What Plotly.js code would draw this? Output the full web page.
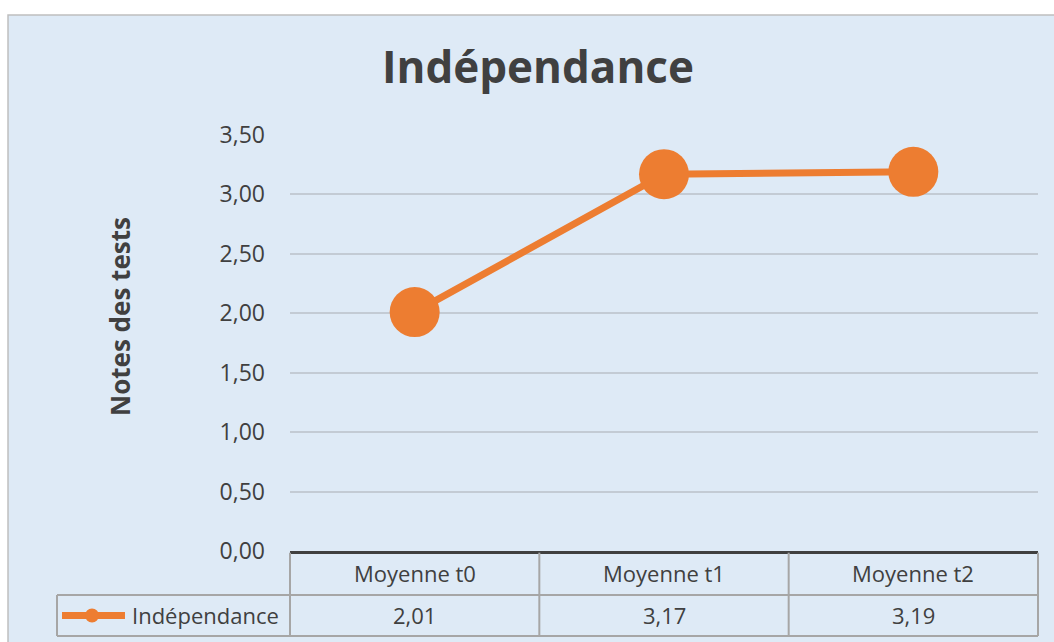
<!DOCTYPE html>
<html>
<head>
<meta charset="utf-8">
<script src="https://cdn.plot.ly/plotly-3.0.1.min.js"></script>
<style>html,body{margin:0;padding:0;background:#fff;}#chart{width:1054px;height:642px;}</style>
</head>
<body>
<div id="chart"></div>
<script>
const categories = ["Moyenne t0", "Moyenne t1", "Moyenne t2"];
const seriesName = "Indépendance";
const values = [2.01, 3.17, 3.19];
const yTickValues = [0, 0.5, 1, 1.5, 2, 2.5, 3, 3.5];
const chartTitle = "Indépendance";
const yTitle = "Notes des tests";

const ORANGE = "#ED7D31";
const TEXT = "#404040";
const GRID = "#C3CBD4";
const TABLE = "#A6A6A6";
const BG = "#DEEAF6";
const FONT = "Open Sans, Noto Sans, DejaVu Sans, sans-serif";

function fmt(v) { return v.toFixed(2).replace(".", ","); }

// geometry of the data table (paper coords)
const row1Y = -0.054, row2Y = -0.155;
const rowSplit = -0.1058, rowBottom = -0.2043;
const legendLeft = -0.3115;

const shapes = [
  // chart area background & border
  {type: "rect", xref: "paper", yref: "paper", x0: -0.377, x1: 1.05, y0: -0.3, y1: 1.2885,
   fillcolor: BG, line: {color: "#BFBFBF", width: 1.5}, layer: "below"},
  // table horizontal lines
  {type: "line", xref: "paper", yref: "paper", x0: legendLeft, x1: 1, y0: rowSplit, y1: rowSplit, line: {color: TABLE, width: 2}},
  {type: "line", xref: "paper", yref: "paper", x0: legendLeft, x1: 1, y0: rowBottom, y1: rowBottom, line: {color: TABLE, width: 2}},
  // legend cell left border
  {type: "line", xref: "paper", yref: "paper", x0: legendLeft, x1: legendLeft, y0: rowSplit, y1: rowBottom, line: {color: TABLE, width: 2}},
];
// vertical table lines at category boundaries
for (let i = 0; i <= categories.length; i++) {
  const xp = i / categories.length;
  shapes.push({type: "line", xref: "paper", yref: "paper", x0: xp, x1: xp, y0: -0.004, y1: rowBottom, line: {color: TABLE, width: 2}});
}
// legend swatch
shapes.push({type: "line", xref: "paper", yref: "paper", x0: -0.3048, x1: -0.2206, y0: row2Y, y1: row2Y, line: {color: ORANGE, width: 7}});
shapes.push({type: "circle", xref: "paper", yref: "paper", xsizemode: "pixel", ysizemode: "pixel",
  xanchor: -0.2647, yanchor: row2Y, x0: -7, x1: 7, y0: -7, y1: 7, fillcolor: ORANGE, line: {width: 0}});

const annotations = [];
categories.forEach((c, i) => {
  annotations.push({xref: "x", yref: "paper", x: c, y: row1Y, text: c, showarrow: false,
    font: {family: FONT, size: 22, color: TEXT}, xanchor: "center", yanchor: "middle"});
  annotations.push({xref: "x", yref: "paper", x: c, y: row2Y, text: fmt(values[i]), showarrow: false,
    font: {family: FONT, size: 22, color: TEXT}, xanchor: "center", yanchor: "middle"});
});
annotations.push({xref: "paper", yref: "paper", x: -0.2139, y: row2Y, text: seriesName, showarrow: false,
  font: {family: FONT, size: 22, color: TEXT}, xanchor: "left", yanchor: "middle"});
annotations.push({xref: "paper", yref: "paper", x: -0.2273, y: 0.565, text: "<b>" + yTitle + "</b>", showarrow: false,
  textangle: -90, font: {family: FONT, size: 26, color: TEXT}, xanchor: "center", yanchor: "middle"});

const trace = {
  x: categories, y: values, type: "scatter", mode: "lines+markers", name: seriesName,
  line: {color: ORANGE, width: 7},
  marker: {color: ORANGE, size: 50, line: {width: 0}},
  hoverinfo: "skip", cliponaxis: false
};

const layout = {
  width: 1054, height: 642,
  margin: {l: 290, r: 16, t: 135, b: 91, pad: 0},
  paper_bgcolor: "#ffffff",
  plot_bgcolor: "rgba(0,0,0,0)",
  separators: ",.",
  showlegend: false,
  title: {text: "<b>" + chartTitle + "</b>", xref: "container", yref: "container", x: 0.5104, y: 0.894,
    xanchor: "center", yanchor: "middle", font: {family: FONT, size: 44, color: TEXT}},
  xaxis: {type: "category", range: [-0.5, 2.5], showticklabels: false, showgrid: false, zeroline: false,
    showline: true, linecolor: TEXT, linewidth: 3, ticks: "", fixedrange: true},
  yaxis: {range: [0, 3.5], tickvals: yTickValues, tickformat: ".2f", showgrid: true, gridcolor: GRID, gridwidth: 2,
    zeroline: false, showline: false, ticks: "", ticklabelstandoff: 24,
    tickfont: {family: FONT, size: 23, color: TEXT}, fixedrange: true},
  shapes: shapes,
  annotations: annotations
};

Plotly.newPlot("chart", [trace], layout, {staticPlot: true, displayModeBar: false});
</script>
</body>
</html>
